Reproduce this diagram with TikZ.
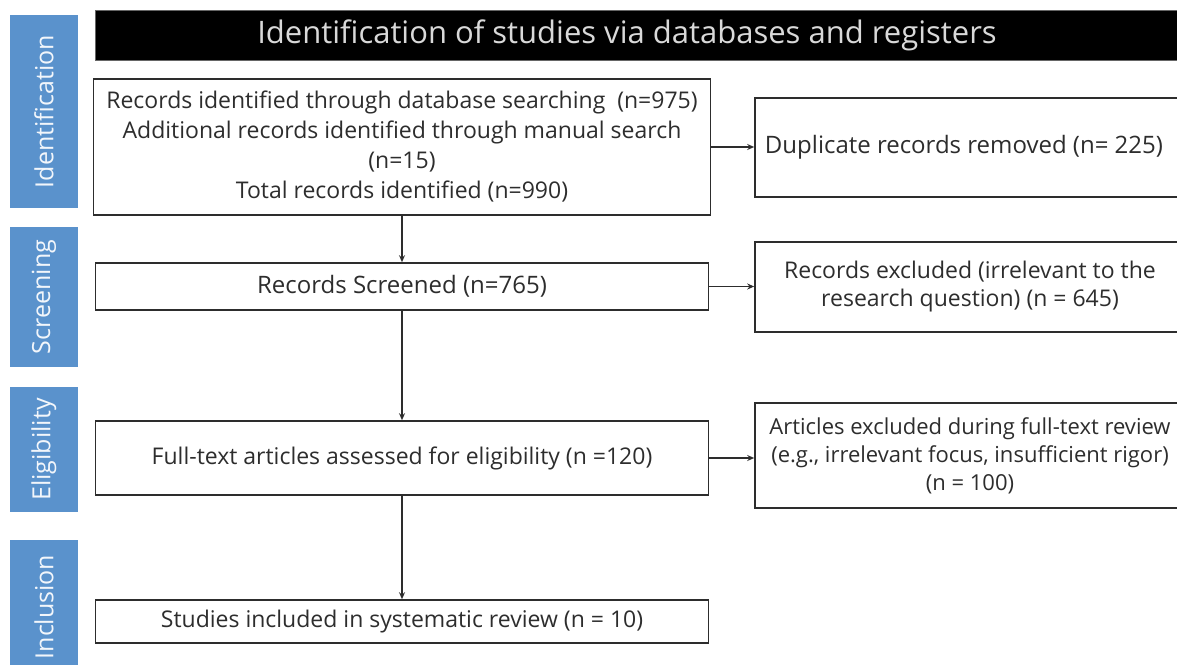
\documentclass[tikz,border=0pt]{standalone}
\usepackage{fontspec}
\setmainfont{Open Sans}
\usetikzlibrary{arrows.meta}
\definecolor{stageblue}{RGB}{90,146,204}
\definecolor{inkgray}{RGB}{45,45,45}

\begin{document}
\begin{tikzpicture}[x=1pt,y=-1pt]
    \useasboundingbox (0,0) rectangle (1177,664);

    \tikzset{box/.style = {draw = inkgray, line width = 1.6pt, fill = white, text = inkgray,
        align = center, inner sep = 0pt, font = \fontsize{23}{30}\selectfont}}
    \tikzset{sidebox/.style = {box, font = \fontsize{23}{28}\selectfont}}
    \tikzset{stage/.style = {fill = stageblue, text = white!92!stageblue, rotate = 90,
        minimum height = 68, inner sep = 0pt, font = \fontsize{25}{28}\selectfont}}
    \tikzset{flow/.style = {-{Stealth[length=7pt,width=6pt]}, line width = 1.4pt, draw = inkgray}}

    % title bar
    \node[fill = black, draw = black!60, line width = 1pt, minimum width = 1090, minimum height = 50,
        text = white!85!black, font = \fontsize{31}{34}\selectfont, inner sep = 0pt]
        (title) at (640,35) {Identification of studies via databases and registers\hspace*{26pt}};

    % stages
    \node[stage, minimum width = 193] (sIdent) at (44,111.5) {Identification};
    \node[stage, minimum width = 140] (sScreen) at (44,297) {Screening};
    \node[stage, minimum width = 125] (sElig) at (44,449.5) {Eligibility};
    \node[stage, minimum width = 134] (sIncl) at (44,607) {Inclusion};

    % main column
    \node[box, minimum width = 617, minimum height = 136] (ident) at (402,147)
        {Records identified through database searching~~(n=975)\\
         Additional records identified through manual search\\
         (n=15)\\
         Total records identified (n=990)};
    \node[box, minimum width = 613, minimum height = 47, font = \fontsize{24}{30}\selectfont]
        (screen) at (402,286.5) {Records Screened (n=765)};
    \node[box, minimum width = 613, minimum height = 74] (full) at (402,458)
        {Full-text articles assessed for eligibility (n =120)};
    \node[box, minimum width = 613, minimum height = 43] (incl) at (402,621.5)
        {Studies included in systematic review (n = 10)};

    % exclusions
    \node[box, minimum width = 430, minimum height = 99, font = \fontsize{24}{30}\selectfont]
        (dup) at (970,147.5) {\hspace*{-12pt}Duplicate records removed (n= 225)};
    \node[sidebox, minimum width = 430, minimum height = 90] (excl) at (970,287)
        {Records excluded (irrelevant to the\\ research question) (n = 645)};
    \node[sidebox, minimum width = 430, minimum height = 105, font = \fontsize{22}{28}\selectfont]
        (artexcl) at (970,455.5)
        {Articles excluded during full-text review\\
         (e.g., irrelevant focus, insufficient rigor)\\
         (n = 100)};

    \draw[flow] (ident) -- (screen);
    \draw[flow] (screen) -- (full);
    \draw[flow] (full) -- (incl);

    \draw[flow] (ident.east) -- (ident.east -| dup.west);
    \draw[flow] (screen.east) -- (screen.east -| excl.west);
    \draw[flow] (full.east) -- (full.east -| artexcl.west);
\end{tikzpicture}
\end{document}
